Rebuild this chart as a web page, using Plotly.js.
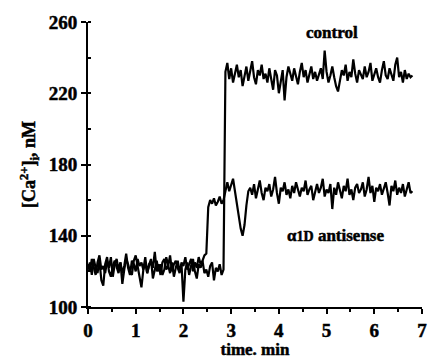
<!DOCTYPE html>
<html>
<head>
<meta charset="utf-8">
<script src="https://cdn.plot.ly/plotly-3.0.1.min.js"></script>
<style>
html,body{margin:0;padding:0;background:#fff;}
#chart text{stroke:#000;stroke-width:0.5px;}
</style>
</head>
<body>
<div id="chart" style="width:428px;height:359px;"></div>
<script>
// Sampling: one reading every 0.04 min, from 0 to 6.8 min
const sampleStep = 0.04;

// Control trace, [Ca2+]i in nM
const controlValues = [
121,125,118,127,122,119,126,115,112,124,
128,120,117,123,126,122,119,125,113,121,
127,124,120,118,126,129,122,117,111,121,
125,119,123,127,116,122,126,120,124,118,
121,128,123,119,125,117,122,126,120,124,
103,121,125,118,123,127,120,116,124,122,
126,119,121,117,123,125,115,122,120,124,
118,121,
232,237,228,234,226,231,236,229,233,224,
230,235,227,232,238,229,225,233,230,236,
228,231,226,234,229,222,233,230,220,227,
233,216,229,235,231,227,234,230,225,232,
237,229,233,226,231,235,228,232,227,230,
234,228,244,232,226,230,235,229,224,221,
228,233,230,236,227,232,229,239,231,226,
233,230,228,235,229,232,237,227,231,234,
229,226,233,238,230,228,234,231,227,236,
240,229,232,226,233,228,231,229,230
];

// alpha1D antisense trace, [Ca2+]i in nM
const antisenseValues = [
124,120,127,122,118,125,129,121,123,119,
126,122,128,117,124,127,121,125,119,123,
130,122,118,126,124,120,127,123,125,121,
128,119,124,126,122,131,120,124,118,125,
127,121,123,129,120,124,126,122,119,125,
123,128,121,124,127,120,125,122,128,124,
126,129,
130,156,
160,158,161,157,159,162,158,160,
166,170,165,168,172,
165,158,150,144,140,146,157,165,
167,163,169,161,166,171,164,160,167,165,
169,162,166,173,164,158,167,165,170,163,
166,161,168,164,170,166,162,167,165,171,
163,166,168,160,165,169,164,167,172,162,
166,164,169,155,167,163,170,165,161,168,
165,172,163,166,160,167,169,164,166,170,
162,166,173,164,168,159,167,165,169,163,
166,170,164,157,168,165,171,163,167,164,
169,162,166,170,164,165
];

const xTickValues = [0,1,2,3,4,5,6,7];
const xTickLabels = ["0","1","2","3","4","5","6","7"];
const yTickValues = [100,140,180,220,260];
const yTickLabels = ["100","140","180","220","260"];

const labelControl = "control";
const labelAntisense = "α<span style='font-size:14px'>1D</span> antisense";

const timeControl = controlValues.map((v, i) => +(i * sampleStep).toFixed(3));
const timeAntisense = antisenseValues.map((v, i) => +(i * sampleStep).toFixed(3));

const serif = "Liberation Serif, Times New Roman, serif";
const bold = s => "<b>" + s + "</b>";

const traces = [
  {x: timeAntisense, y: antisenseValues, type: "scatter", mode: "lines",
   line: {color: "#000", width: 2.2}, hoverinfo: "skip"},
  {x: timeControl, y: controlValues, type: "scatter", mode: "lines",
   line: {color: "#000", width: 2.2}, hoverinfo: "skip"}
];

const layout = {
  width: 428, height: 359,
  margin: {l: 88, r: 6, t: 22, b: 52},
  paper_bgcolor: "#fff", plot_bgcolor: "#fff",
  showlegend: false,
  font: {family: serif, color: "#000"},
  xaxis: {
    range: [0, 7], tickvals: xTickValues, ticktext: xTickLabels.map(bold),
    showline: true, linecolor: "#000", linewidth: 2,
    ticks: "outside", ticklen: 5, tickwidth: 2, tickcolor: "#000",
    minor: {dtick: 0.5, ticks: "outside", ticklen: 3, tickwidth: 2, tickcolor: "#000", showgrid: false},
    showgrid: false, zeroline: false,
    tickfont: {family: serif, size: 19, color: "#000"},
    title: {text: bold("time. min"), font: {family: serif, size: 17, color: "#000"}, standoff: 0}
  },
  yaxis: {
    range: [100, 260], tickvals: yTickValues, ticktext: yTickLabels.map(bold),
    showline: true, linecolor: "#000", linewidth: 2,
    ticks: "outside", ticklen: 5, tickwidth: 2, tickcolor: "#000",
    minor: {dtick: 20, ticks: "inside", ticklen: 3, tickwidth: 2, tickcolor: "#000", showgrid: false},
    showgrid: false, zeroline: false,
    tickfont: {family: serif, size: 19, color: "#000"},
    title: {text: bold("[Ca<sup>2+</sup>]<sub>i</sub>, nM"), font: {family: serif, size: 18, color: "#000"}, standoff: 8}
  },
  annotations: [
    {x: 5.12, y: 254, xref: "x", yref: "y", text: bold(labelControl),
     showarrow: false, font: {family: serif, size: 17, color: "#000"}},
    {x: 5.18, y: 140, xref: "x", yref: "y", text: bold(labelAntisense),
     showarrow: false, font: {family: serif, size: 17, color: "#000"}}
  ]
};

Plotly.newPlot("chart", traces, layout, {staticPlot: true, displayModeBar: false});
</script>
</body>
</html>
